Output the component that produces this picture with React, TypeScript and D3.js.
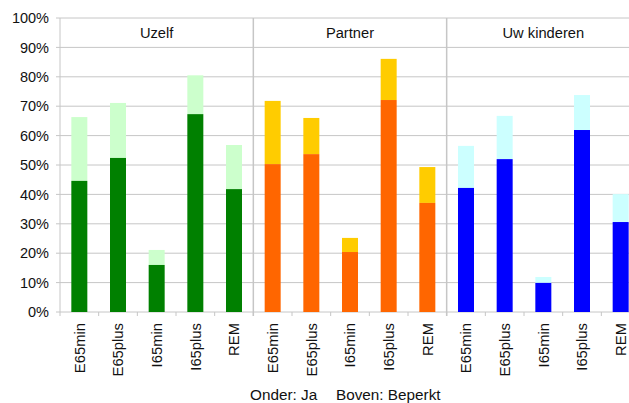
import React from "react";
import * as d3 from "d3";

const groups = ["Uzelf", "Partner", "Uw kinderen"];
const categories = ["E65min", "E65plus", "I65min", "I65plus", "REM"];
// lower (Ja) values per group, in %
const jaUzelf = [44.6, 52.4, 16.0, 67.3, 41.8];
const jaPartner = [50.3, 53.7, 20.4, 72.1, 37.1];
const jaKinderen = [42.2, 52.0, 9.9, 61.9, 30.6];
// totals (Ja + Beperkt), in %
const totUzelf = [66.3, 71.1, 21.1, 80.5, 56.8];
const totPartner = [71.8, 66.0, 25.2, 86.1, 49.3];
const totKinderen = [56.5, 66.7, 11.9, 73.8, 40.1];
const yTicks = [0, 10, 20, 30, 40, 50, 60, 70, 80, 90, 100];
const lowerColors = ["#008000", "#FF6600", "#0000FF"];
const upperColors = ["#CCFFCC", "#FFCC00", "#CCFFFF"];
const caption1 = "Onder: Ja";
const caption2 = "Boven: Beperkt";

export default function App() {
  const W = 629, H = 403;
  const left = 60, right = 640, top = 18, bottom = 312;
  const ja = [jaUzelf, jaPartner, jaKinderen];
  const tot = [totUzelf, totPartner, totKinderen];
  const keys: string[] = [];
  groups.forEach((g) => categories.forEach((c) => keys.push(g + "|" + c)));
  const x = d3.scaleBand<string>().domain(keys).range([left, right]).paddingInner(0).paddingOuter(0);
  const gx = d3.scaleBand<string>().domain(groups).range([left, right]);
  const y = d3.scaleLinear().domain([0, 100]).range([bottom, top]);
  const step = x.step();
  const bw = 16;
  const grid = "#c6c6c6";
  const font = "'Liberation Sans', Arial, Helvetica, sans-serif";

  return (
    <svg width={W} height={H} style={{ position: "absolute", left: 0, top: 0 }} fontFamily={font}>
      <rect width={W} height={H} fill="#fff" />
      {yTicks.map((t) => (
        <g key={t}>
          <line x1={left - 4} x2={right} y1={y(t)} y2={y(t)} stroke={grid} strokeWidth={1} />
          <text x={49} y={y(t)} dy="0.36em" textAnchor="end" fontSize={14.5} fill="#111">
            {t}%
          </text>
        </g>
      ))}
      {/* left axis */}
      <line x1={left} x2={left} y1={top} y2={bottom + 4} stroke={grid} />
      {/* category ticks */}
      {keys.map((k) => (
        <line key={"t" + k} x1={(x(k) as number) + step} x2={(x(k) as number) + step} y1={bottom} y2={bottom + 4} stroke={grid} />
      ))}
      {/* group separators */}
      {groups.slice(1).map((g) => (
        <line key={"s" + g} x1={gx(g) as number} x2={gx(g) as number} y1={top} y2={bottom + 4} stroke={grid} strokeWidth={1.5} />
      ))}
      {/* bars */}
      {groups.map((g, gi) =>
        categories.map((c, ci) => {
          const cx = (x(g + "|" + c) as number) + step / 2;
          const lo = ja[gi][ci];
          const hi = tot[gi][ci];
          return (
            <g key={g + c}>
              <rect x={cx - bw / 2} width={bw} y={y(hi)} height={y(lo) - y(hi)} fill={upperColors[gi]} />
              <rect x={cx - bw / 2} width={bw} y={y(lo)} height={bottom - y(lo)} fill={lowerColors[gi]} />
            </g>
          );
        })
      )}
      {/* group labels */}
      {groups.map((g) => (
        <text key={"gl" + g} x={(gx(g) as number) + gx.bandwidth() / 2} y={38} textAnchor="middle" fontSize={14.7} fill="#111">
          {g}
        </text>
      ))}
      {/* category labels */}
      {keys.map((k) => {
        const cx = (x(k) as number) + step / 2;
        return (
          <text key={"cl" + k} transform={`translate(${cx},${323}) rotate(-90)`} dy="0.36em" textAnchor="end" fontSize={14.8} fill="#111">
            {k.split("|")[1]}
          </text>
        );
      })}
      <text x={250} y={400} fontSize={15.3} fill="#111">{caption1}</text>
      <text x={336} y={400} fontSize={15.3} fill="#111">{caption2}</text>
    </svg>
  );
}
